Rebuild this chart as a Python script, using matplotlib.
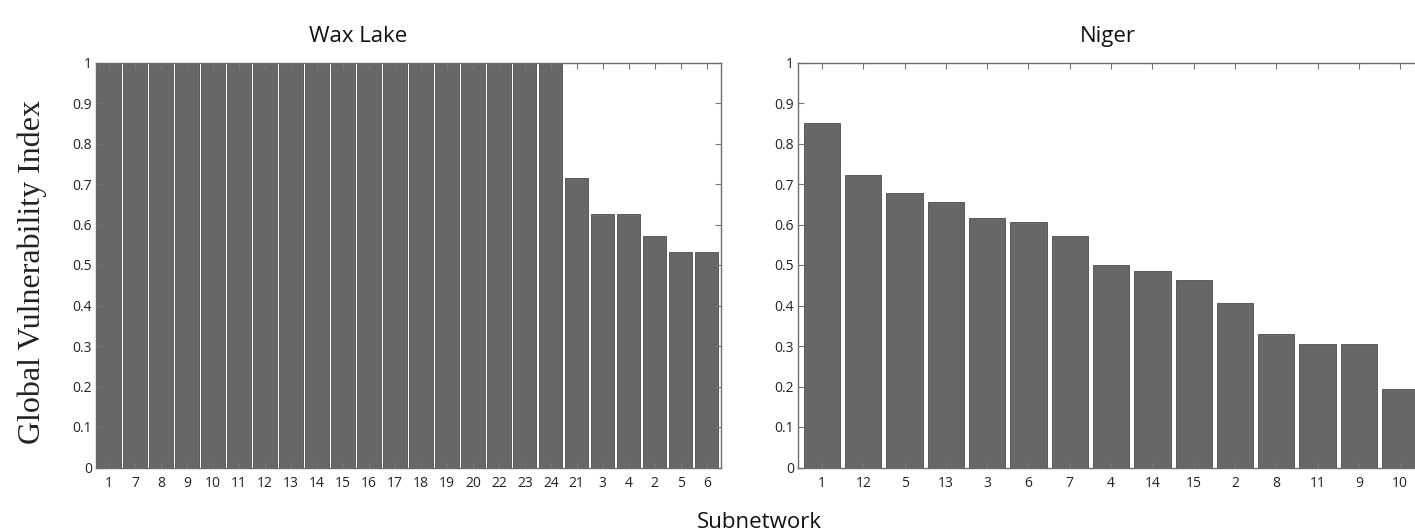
import matplotlib
matplotlib.use("Agg")
import matplotlib.pyplot as plt
import numpy as np

# data
wax_labels = ["1", "7", "8", "9", "10", "11", "12", "13", "14", "15", "16", "17",
              "18", "19", "20", "22", "23", "24", "21", "3", "4", "2", "5", "6"]
wax_values = [1.0] * 18 + [0.714, 0.626, 0.626, 0.572, 0.532, 0.532]

niger_labels = ["1", "12", "5", "13", "3", "6", "7", "4", "14", "15", "2", "8", "11", "9", "10"]
niger_values = [0.850, 0.723, 0.679, 0.655, 0.615, 0.606, 0.571, 0.500,
                0.485, 0.463, 0.406, 0.329, 0.306, 0.305, 0.194]

yticks = [0, 0.1, 0.2, 0.3, 0.4, 0.5, 0.6, 0.7, 0.8, 0.9, 1]
ytick_labels = ["0", "0.1", "0.2", "0.3", "0.4", "0.5", "0.6", "0.7", "0.8", "0.9", "1"]

SANS = "Open Sans"
BAR_COLOR = "#676767"
EDGE_COLOR = "#4d4d4d"
SPINE_COLOR = "#6e6e6e"

W, H = 1415, 532
fig = plt.figure(figsize=(W / 100, H / 100), dpi=100)


def style_axes(ax, labels, xlim):
	x = np.arange(1, len(labels) + 1)
	ax.set_xlim(*xlim)
	ax.set_ylim(0, 1)
	ax.set_xticks(x)
	ax.set_xticklabels(labels, fontfamily=SANS, fontsize=10, color="#222222")
	ax.set_yticks(yticks)
	ax.set_yticklabels(ytick_labels, fontfamily=SANS, fontsize=10, color="#222222")
	ax.tick_params(axis="both", direction="in", length=4, width=0.8, color="#777777",
	               top=True, right=True)
	ax.tick_params(axis="x", pad=6)
	ax.tick_params(axis="y", pad=3)
	for spine in ax.spines.values():
		spine.set_color(SPINE_COLOR)
		spine.set_linewidth(1.0)


# left panel: Wax Lake
ax1 = fig.add_axes([96 / W, (H - 467.5) / H, 625 / W, 405 / H])
x1 = np.arange(1, len(wax_values) + 1)
ax1.bar(x1, wax_values, width=0.9, color=BAR_COLOR, edgecolor=EDGE_COLOR, linewidth=0.6, zorder=1)
style_axes(ax1, wax_labels, (0.5, 24.55))

# right panel: Niger (right edge runs past the figure, as in the source)
ax2 = fig.add_axes([798 / W, (H - 467.5) / H, 627 / W, 405 / H])
x2 = np.arange(1, len(niger_values) + 1)
ax2.bar(x2, niger_values, width=0.88, color=BAR_COLOR, edgecolor=EDGE_COLOR, linewidth=0.6, zorder=1)
style_axes(ax2, niger_labels, (0.42, 15.6))

fig.text(358 / W, 1 - 42 / H, "Wax Lake", fontfamily=SANS, fontsize=16,
         ha="center", va="baseline", color="#111111")
fig.text(1108 / W, 1 - 42 / H, "Niger", fontfamily=SANS, fontsize=16,
         ha="center", va="baseline", color="#111111")
fig.text(759 / W, 1 - 528 / H, "Subnetwork", fontfamily=SANS, fontsize=16,
         ha="center", va="baseline", color="#111111")
fig.text(32 / W, 1 - 272 / H, "Global Vulnerability Index", fontfamily="Liberation Serif",
         fontsize=23, rotation=90, ha="center", va="center", color="#222222")

fig.savefig("out.png", dpi=100)
